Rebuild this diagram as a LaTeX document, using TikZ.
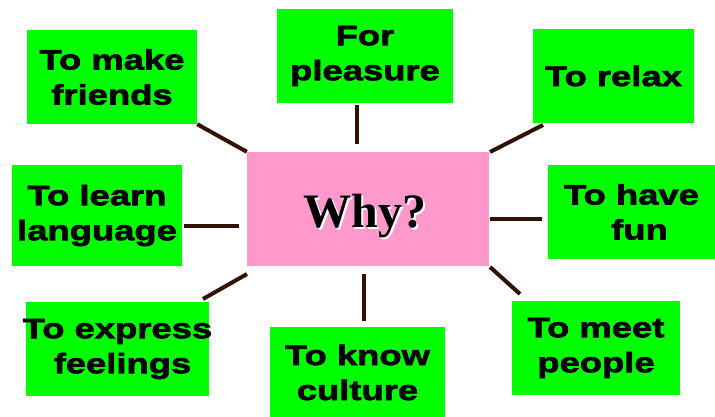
\documentclass[tikz,border=0pt]{standalone}
\usepackage{fontspec}
\newfontfamily\boxfont[FakeStretch=1.3,BoldFeatures={FakeStretch=1.3,FakeBold=2.5}]{Liberation Sans}
\newfontfamily\whyfont{Liberation Serif}
\definecolor{boxgreen}{RGB}{0,255,0}
\definecolor{whypink}{RGB}{255,153,204}
\definecolor{linkbrown}{RGB}{51,17,0}
\begin{document}
\begin{tikzpicture}[x=1pt,y=-1pt,
  reason/.style={fill=boxgreen,inner sep=0pt,align=center,
    font=\boxfont\bfseries\fontsize{28}{35}\selectfont},
  link/.style={draw=linkbrown,line width=4pt},
  whystyle/.style={font=\whyfont\bfseries\fontsize{48}{56}\selectfont,inner sep=0pt,anchor=base}]
\useasboundingbox (0,0) rectangle (715,417);
% centre
\node[fill=whypink,minimum width=242pt,minimum height=114pt,inner sep=0pt] (why) at (368,209) {};
\node[whystyle,text=black] (whytext) at (365,227)
  {\makebox[0pt][l]{\hspace{2pt}\raisebox{-2pt}{\textcolor{white}{Why?}}}Why?};
% reasons
\node[reason,minimum width=170pt,minimum height=94pt] (friends) at (112,77) {To make\\friends};
\node[reason,minimum width=176pt,minimum height=94pt] (pleasure) at (365,56) {For\\pleasure};
\node[reason,minimum width=161pt,minimum height=94pt] (relax) at (613.5,76) {To relax};
\node[reason,minimum width=170pt,minimum height=101pt] (learn) at (97,215.5) {To learn\hspace{6pt}\\language};
\node[reason,minimum width=167pt,minimum height=94pt] (fun) at (631.5,212) {To have\\\hspace{16pt}fun};
\node[reason,minimum width=183pt,minimum height=94pt,inner xsep=-12pt] (express) at (117.5,349) {To express\\\hspace{10pt}feelings};
\node[reason,minimum width=175pt,minimum height=91pt] (culture) at (357.5,372.5) {To know\hspace{8pt}\\culture\hspace{8pt}};
\node[reason,minimum width=168pt,minimum height=94pt] (meet) at (596,348) {To meet\hspace{10pt}\\people};
% connector ends
\coordinate (p1) at (357,105); \coordinate (p2) at (357,144);
\coordinate (r1) at (543,125); \coordinate (r2) at (490,152);
\coordinate (l1) at (184,226); \coordinate (l2) at (239,226);
\coordinate (f1) at (490,219); \coordinate (f2) at (542,219);
\coordinate (e1) at (247,274); \coordinate (e2) at (203,299);
\coordinate (c1) at (364,274); \coordinate (c2) at (364,321);
\coordinate (m1) at (490,267); \coordinate (m2) at (520,294);
\draw[link] (friends.south east) -- (why.north west);
\draw[link] (p1) -- (p2);
\draw[link] (r1) -- (r2);
\draw[link] (l1) -- (l2);
\draw[link] (f1) -- (f2);
\draw[link] (e1) -- (e2);
\draw[link] (c1) -- (c2);
\draw[link] (m1) -- (m2);
\end{tikzpicture}
\end{document}
